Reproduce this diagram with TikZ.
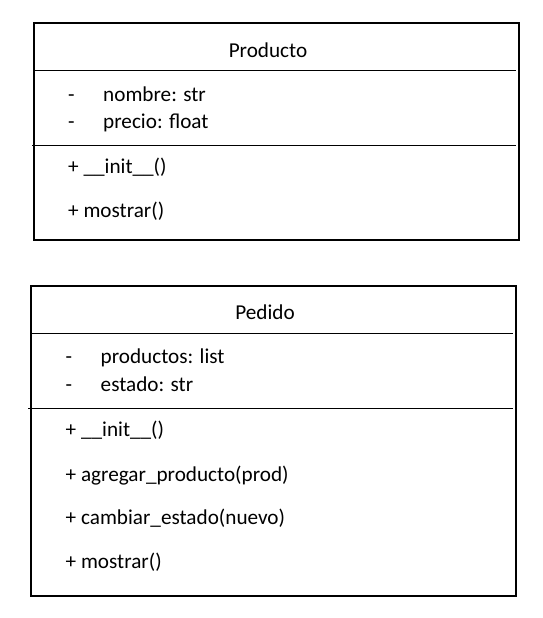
\documentclass[tikz,border=0pt]{standalone}
\usepackage{fontspec}
\setmainfont{Carlito}
\begin{document}
\begin{tikzpicture}[x=1pt,y=-1pt,
  classbox/.style={draw, line width=2pt, inner sep=0pt, outer sep=0pt, anchor=north west},
  divider/.style={line width=1pt},
  txt/.style={anchor=base west, inner sep=0pt, font=\fontsize{21.2}{25}\selectfont},
  titletxt/.style={anchor=base, inner sep=0pt, font=\fontsize{21.2}{25}\selectfont}]
\useasboundingbox[fill=white] (0,0) rectangle (542,618);
% Producto
\node[classbox, minimum width=485pt, minimum height=217pt] (prod) at (34,23) {};
\draw[divider] (34,70) -- (516,70);
\draw[divider] (32,145) -- (516,145);
\node[titletxt] (ptitle) at (268,57) {Producto};
\node[txt] (pd1) at (68,101.5) {-};
\node[txt] (pa1) at (103,101.5) {nombre: str};
\node[txt] (pd2) at (68,128.5) {-};
\node[txt] (pa2) at (103,128.5) {precio: float};
\node[txt] (pm1) at (68,173) {+ \_\_init\_\_()};
\node[txt] (pm2) at (68,217) {+ mostrar()};
% Pedido
\node[classbox, minimum width=485pt, minimum height=310pt] (ped) at (31,286) {};
\draw[divider] (31,333) -- (513,333);
\draw[divider] (28,408) -- (513,408);
\node[titletxt] (etitle) at (265,319) {Pedido};
\node[txt] (ed1) at (65.5,363) {-};
\node[txt] (ea1) at (100.5,363) {productos: list};
\node[txt] (ed2) at (65.5,391.5) {-};
\node[txt] (ea2) at (100.5,391.5) {estado: str};
\node[txt] (em1) at (65.5,436.5) {+ \_\_init\_\_()};
\node[txt] (em2) at (65.5,481) {+ agregar\_producto(prod)};
\node[txt] (em3) at (65.5,524.5) {+ cambiar\_estado(nuevo)};
\node[txt] (em4) at (65.5,568) {+ mostrar()};
\end{tikzpicture}
\end{document}
